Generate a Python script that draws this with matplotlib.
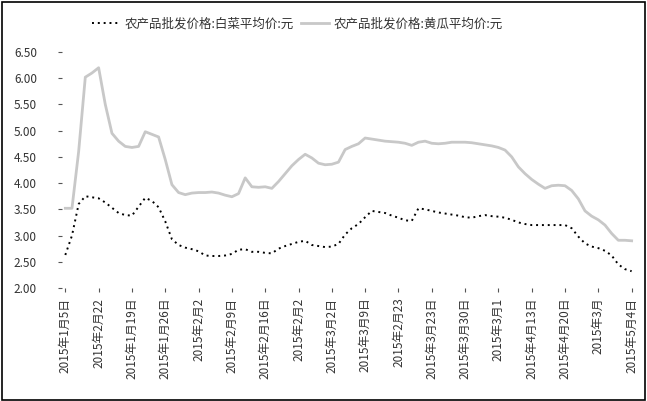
import matplotlib.pyplot as plt
import matplotlib.patches as patches
import numpy as np

plt.rcParams['font.family'] = ['Noto Sans CJK SC', 'DejaVu Sans']

# series names
name_a = '农产品批发价格:白菜平均价:元'
name_b = '农产品批发价格:黄瓜平均价:元'

# dotted black series
price_a = [2.63, 3.00, 3.60, 3.75, 3.73, 3.71, 3.63, 3.53, 3.43, 3.39,
           3.38, 3.55, 3.72, 3.66, 3.54, 3.27, 2.93, 2.82, 2.77, 2.74,
           2.70, 2.62, 2.61, 2.61, 2.62, 2.65, 2.73, 2.74, 2.69, 2.69,
           2.67, 2.66, 2.75, 2.80, 2.84, 2.88, 2.90, 2.82, 2.80, 2.78,
           2.79, 2.84, 3.02, 3.14, 3.22, 3.35, 3.47, 3.45, 3.43, 3.38,
           3.34, 3.29, 3.28, 3.52, 3.50, 3.47, 3.44, 3.42, 3.40, 3.38,
           3.35, 3.34, 3.37, 3.39, 3.37, 3.36, 3.34, 3.30, 3.25, 3.22,
           3.20, 3.20, 3.20, 3.20, 3.20, 3.20, 3.14, 2.98, 2.85, 2.79,
           2.76, 2.71, 2.62, 2.45, 2.36, 2.32]

# grey solid series
price_b = [3.52, 3.52, 4.60, 6.02, 6.10, 6.20, 5.50, 4.95, 4.80, 4.70,
           4.68, 4.70, 4.98, 4.93, 4.88, 4.45, 3.97, 3.82, 3.78, 3.81,
           3.82, 3.82, 3.83, 3.81, 3.77, 3.74, 3.80, 4.10, 3.93, 3.92,
           3.93, 3.90, 4.03, 4.18, 4.33, 4.45, 4.55, 4.48, 4.38, 4.35,
           4.36, 4.40, 4.64, 4.70, 4.75, 4.86, 4.84, 4.82, 4.80, 4.79,
           4.78, 4.76, 4.72, 4.78, 4.80, 4.76, 4.75, 4.76, 4.78, 4.78,
           4.78, 4.77, 4.75, 4.73, 4.71, 4.68, 4.63, 4.50, 4.31, 4.18,
           4.07, 3.98, 3.90, 3.95, 3.96, 3.95, 3.86, 3.70, 3.47, 3.37,
           3.30, 3.20, 3.04, 2.91, 2.91, 2.90]

# one label every 5 points
date_labels = ['2015年1月5日', '2015年2月22', '2015年1月19日', '2015年1月26日',
               '2015年2月2', '2015年2月9日', '2015年2月16日', '2015年2月2',
               '2015年3月2日', '2015年3月9日', '2015年2月23', '2015年3月23日',
               '2015年3月30日', '2015年3月1', '2015年4月13日', '2015年4月20日',
               '2015年3月', '2015年5月4日']
y_ticks = [2.0, 2.5, 3.0, 3.5, 4.0, 4.5, 5.0, 5.5, 6.0, 6.5]

fig = plt.figure(figsize=(6.47, 4.01), dpi=100)
ax = fig.add_axes([0.0958, 0.2818, 0.8856, 0.5885])

x = np.arange(len(price_a))
ax.plot(x, price_a, color='black', lw=1.4, ls=(0, (1, 2)), label=name_a)
ax.plot(x, price_b, color='#c8c8c8', lw=2.0, label=name_b)

ax.set_xlim(-0.5, len(x) - 0.5)
ax.set_ylim(2.0, 6.5)
ax.set_yticks(y_ticks)
ax.set_yticklabels(['%.2f' % v for v in y_ticks], fontsize=8.5, color='#333333')
ax.set_xticks(x[::5])
ax.set_xticklabels(date_labels, rotation=90, fontsize=8.5, color='#333333')
ax.tick_params(axis='y', length=3, width=0.8, color='#555555', pad=15)
ax.tick_params(axis='x', length=3, width=0.8, color='#555555', pad=4)
for s in ax.spines.values():
    s.set_visible(False)

fig.legend(loc='upper center', bbox_to_anchor=(0.46, 0.985), ncol=2,
           frameon=False, fontsize=9, handlelength=2.2, columnspacing=0.6,
           handletextpad=0.4, labelcolor='#333333')

# frame around the whole picture
fig.patches.append(patches.Rectangle((0.003, 0.003), 0.994, 0.993,
                                     transform=fig.transFigure, fill=False,
                                     edgecolor='black', lw=1.2))

fig.savefig('out.png', dpi=100)
